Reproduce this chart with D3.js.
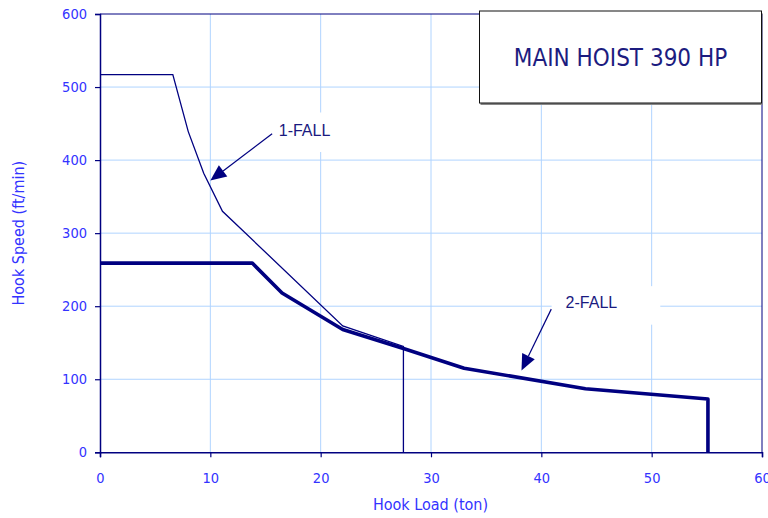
<!DOCTYPE html>
<html>
<head>
<meta charset="utf-8">
<script src="https://cdn.jsdelivr.net/npm/d3@7"></script>
<style>
  body { margin: 0; background: #fff; }
  svg { display: block; }
</style>
</head>
<body>
<div id="chart"></div>
<script>
// hook speed vs hook load
const fall1Load = [0, 6.6, 8.0, 9.4, 11.1, 22.0, 27.5, 27.5];
const fall1Speed = [517, 517, 439, 382, 330, 173, 145, 0];
const fall2Load = [0, 13.8, 16.5, 22.0, 27.5, 33.0, 44.0, 55.1, 55.1];
const fall2Speed = [259, 259, 218, 168, 142, 115, 87, 73, 0];

const xTicks = [0, 10, 20, 30, 40, 50, 60];
const yTicks = [0, 100, 200, 300, 400, 500, 600];

const chartTitle = 'MAIN HOIST 390 HP';
const xTitle = 'Hook Load (ton)';
const yTitle = 'Hook Speed (ft/min)';
const curveNames = ['1-FALL', '2-FALL'];

const width = 768;
const height = 518;
const margin = { top: 14, right: 6, bottom: 65.7, left: 100 };

const navy = '#000080';
const labelBlue = '#3333ff';
const gridBlue = '#b0d4ff';
const condensed = '"DejaVu Sans Condensed", "DejaVu Sans", sans-serif';

const svg = d3.select('#chart')
  .append('svg')
  .attr('width', width)
  .attr('height', height);

const x = d3.scaleLinear()
  .domain([0, 60])
  .range([margin.left, width - margin.right]);

const y = d3.scaleLinear()
  .domain([0, 600])
  .range([height - margin.bottom, margin.top]);

// grid lines
svg.append('g')
  .selectAll('line')
  .data(xTicks.slice(1, -1))
  .enter().append('line')
  .attr('x1', (d) => x(d)).attr('x2', (d) => x(d))
  .attr('y1', y(0)).attr('y2', y(600))
  .attr('stroke', gridBlue)
  .attr('stroke-width', 1);

svg.append('g')
  .selectAll('line')
  .data(yTicks.slice(1, -1))
  .enter().append('line')
  .attr('x1', x(0)).attr('x2', x(60))
  .attr('y1', (d) => y(d)).attr('y2', (d) => y(d))
  .attr('stroke', gridBlue)
  .attr('stroke-width', 1);

// plot frame (top + right)
svg.append('path')
  .attr('d', `M${x(0)},${y(600)}H${x(60)}V${y(0)}`)
  .attr('fill', 'none')
  .attr('stroke', navy)
  .attr('stroke-width', 1);

// axes
const xAxis = svg.append('g')
  .attr('transform', `translate(0,${y(0)})`)
  .call(d3.axisBottom(x).tickValues(xTicks).tickSize(5).tickPadding(15).tickFormat(d3.format('d')));

const yAxis = svg.append('g')
  .attr('transform', `translate(${x(0)},0)`)
  .call(d3.axisLeft(y).tickValues(yTicks).tickSize(5).tickPadding(8).tickFormat(d3.format('d')));

[xAxis, yAxis].forEach((ax) => {
  ax.select('.domain').attr('stroke', navy).attr('stroke-width', 1.5);
  ax.selectAll('.tick line').attr('stroke', navy).attr('stroke-width', 1.2);
  ax.selectAll('.tick text')
    .attr('fill', labelBlue)
    .style('font-family', condensed)
    .style('font-size', '14.5px');
});

// axis titles
svg.append('text')
  .attr('x', (x(0) + x(60)) / 2 - 0.5)
  .attr('y', 510)
  .attr('text-anchor', 'middle')
  .attr('fill', labelBlue)
  .style('font-family', condensed)
  .style('font-size', '16px')
  .text(xTitle);

svg.append('text')
  .attr('transform', `translate(24,${(y(0) + y(600)) / 2})rotate(-90)`)
  .attr('text-anchor', 'middle')
  .attr('fill', labelBlue)
  .style('font-family', condensed)
  .style('font-size', '16px')
  .text(yTitle);

// curves
const line = d3.line()
  .x((d) => x(d[0]))
  .y((d) => y(d[1]));

svg.append('path')
  .datum(d3.zip(fall1Load, fall1Speed))
  .attr('d', line)
  .attr('fill', 'none')
  .attr('stroke', navy)
  .attr('stroke-width', 1.3);

svg.append('path')
  .datum(d3.zip(fall2Load, fall2Speed))
  .attr('d', line)
  .attr('fill', 'none')
  .attr('stroke', navy)
  .attr('stroke-width', 3.6)
  .attr('stroke-linejoin', 'round');

// curve call-outs: text spot and arrow tip in data units
const callouts = [
  { name: curveNames[0], tx: 16.2, ty: 433, from: [15.6, 436], tip: [10.0, 372], pad: [6, 10, 12, 16] },
  { name: curveNames[1], tx: 42.2, ty: 198, from: [40.9, 196], tip: [38.2, 112], pad: [14, 43, 10, 17] }
];

callouts.forEach((c) => {
  const g = svg.append('g');
  const box = g.append('rect').attr('fill', '#fff');
  const t = g.append('text')
    .attr('x', x(c.tx))
    .attr('y', y(c.ty))
    .attr('fill', '#1a1a80')
    .style('font-family', '"Liberation Sans", Arial, sans-serif')
    .style('font-size', '16px')
    .text(c.name);
  const bb = t.node().getBBox();
  const capTop = y(c.ty) - 11.5;
  box.attr('x', bb.x - c.pad[0])
    .attr('y', capTop - c.pad[2])
    .attr('width', bb.width + c.pad[0] + c.pad[1])
    .attr('height', 11.5 + c.pad[2] + c.pad[3]);

  // arrow shaft and filled head
  const x0 = x(c.from[0]), y0 = y(c.from[1]);
  const x1 = x(c.tip[0]), y1 = y(c.tip[1]);
  const ang = Math.atan2(y1 - y0, x1 - x0);
  const headLen = 16, headHalf = 7;
  const bx = x1 - headLen * Math.cos(ang), by = y1 - headLen * Math.sin(ang);
  svg.append('line')
    .attr('x1', x0).attr('y1', y0)
    .attr('x2', bx).attr('y2', by)
    .attr('stroke', navy)
    .attr('stroke-width', 1.2);
  svg.append('path')
    .attr('d', `M${x1},${y1}L${bx - headHalf * Math.sin(ang)},${by + headHalf * Math.cos(ang)}L${bx + headHalf * Math.sin(ang)},${by - headHalf * Math.cos(ang)}Z`)
    .attr('fill', navy);
});

// title box
const tb = { x: 479.5, y: 11, w: 282, h: 92 };
svg.append('rect')
  .attr('x', tb.x + 1).attr('y', tb.y + 2)
  .attr('width', tb.w).attr('height', tb.h)
  .attr('fill', '#888');
svg.append('rect')
  .attr('x', tb.x).attr('y', tb.y)
  .attr('width', tb.w).attr('height', tb.h)
  .attr('fill', '#fff')
  .attr('stroke', '#111')
  .attr('stroke-width', 1);
svg.append('text')
  .attr('x', tb.x + tb.w / 2)
  .attr('y', 66)
  .attr('text-anchor', 'middle')
  .attr('fill', '#1c1c80')
  .style('font-family', condensed)
  .style('font-size', '24px')
  .text(chartTitle);
</script>
</body>
</html>
